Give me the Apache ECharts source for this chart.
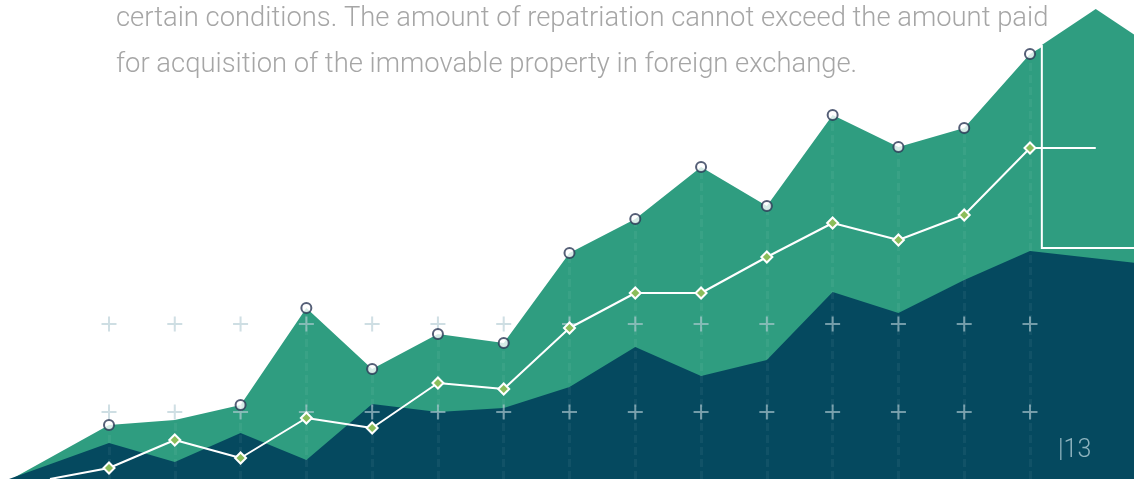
<!DOCTYPE html>
<html><head><meta charset="utf-8">
<style>html,body{margin:0;padding:0;background:#fff;overflow:hidden}#c{width:1134px;height:479px}</style>
<script src="https://cdn.jsdelivr.net/npm/echarts@6/dist/echarts.min.js"></script>
</head><body><div id="c"></div>
<script>
// ---- data ----
const periods = [0,1,2,3,4,5,6,7,8,9,10,11,12,13,14];
const upperValues = [13.5, 14.75, 18.5, 42.75, 27.5, 36.25, 34, 56.5, 65, 78, 68.25, 91, 83, 87.75, 106.25];
const midValues   = [2.75, 9.75, 5.25, 15.25, 12.75, 24, 22.5, 37.75, 46.5, 46.5, 55.5, 64, 59.75, 66, 82.75];
const lowerValues = [9, 4.25, 11.5, 4.75, 18.75, 16.75, 17.75, 23, 33, 25.75, 29.75, 46.75, 41.5, 49.75, 57];
const upperLead = [-1.48, 0];
const upperTail = [[14.18, 108], [15.6, 95]];
const midLead = [-0.897, 0];
const midTail = [15, 82.75];
const lowerLead = [-1.52, 0];
const lowerTail = [15.6, 54];
const houseShape = [[14.18, 57.75], [14.18, 108.5], [15, 117.5], [15.82, 108.5], [15.82, 57.75]];
const plusRows = [38.75, 16.75];
const bodyText = ['certain conditions. The amount of repatriation cannot exceed the amount paid',
                  'for acquisition of the immovable property in foreign exchange.'];
const pageLabel = '|13';

// ---- styles ----
const GREEN = '#2f9d80';
const NAVY = '#05495f';
const TEXT_FONT = "'Roboto', sans-serif";

const pairs = (vals) => periods.map((p, i) => [p, vals[i]]);
const upperData = [upperLead, ...pairs(upperValues), ...upperTail];
const midData = [midLead, ...pairs(midValues), midTail]
  .map((d, i, a) => (i === 0 || i === a.length - 1) ? {value: d, symbol: 'none'} : d);
const lowerData = [lowerLead, ...pairs(lowerValues), lowerTail];
const plusData = [];
plusRows.forEach(r => periods.forEach(p => plusData.push([p, r])));

const chart = echarts.init(document.getElementById('c'), null, {renderer: 'canvas'});
chart.setOption({
  animation: false,
  backgroundColor: '#ffffff',
  title: [
    {text: bodyText[0], left: 116, top: 6, padding: 0,
     textStyle: {fontFamily: TEXT_FONT, fontSize: 27.4, fontWeight: 300, color: '#a6a6a6'}},
    {text: bodyText[1], left: 116, top: 52, padding: 0,
     textStyle: {fontFamily: TEXT_FONT, fontSize: 27.4, fontWeight: 300, color: '#a6a6a6'}},
    {text: pageLabel, left: 1058, top: 438, padding: 0,
     textStyle: {fontFamily: TEXT_FONT, fontSize: 25, fontWeight: 300, color: '#8fb4bf'}}
  ],
  grid: {left: 0, right: 0, top: 0, bottom: 0, containLabel: false},
  xAxis: {type: 'value', min: -1.657, max: 15.581,
    axisLine: {show: false}, axisTick: {show: false}, axisLabel: {show: false}, splitLine: {show: false}},
  yAxis: {type: 'value', min: 0, max: 119.75,
    axisLine: {show: false}, axisTick: {show: false}, axisLabel: {show: false}, splitLine: {show: false}},
  series: [
    {type: 'line', data: upperData, z: 1, showSymbol: false, silent: true,
     lineStyle: {width: 0, color: GREEN}, areaStyle: {color: GREEN, opacity: 1}},
    {type: 'line', data: lowerData, z: 2, showSymbol: false, silent: true,
     lineStyle: {width: 0, color: NAVY}, areaStyle: {color: NAVY, opacity: 1}},
    {type: 'custom', z: 3, data: [[15, 60]], clip: false, silent: true,
     renderItem: (params, api) => {
       const pts = houseShape.map(p => api.coord(p));
       return {type: 'group', children: [
         {type: 'polygon', shape: {points: pts}, style: {fill: GREEN}},
         {type: 'polyline', shape: {points: [pts[1], pts[0], pts[4]]},
          style: {stroke: '#ffffff', lineWidth: 2, fill: null}}
       ]};
     }},
    {type: 'scatter', data: plusData, z: 4, silent: true,
     symbol: 'path://M0,6.5H15V8.5H0Z M6.5,0H8.5V15H6.5Z', symbolSize: 15,
     itemStyle: {color: 'rgba(178,203,211,0.8)'},
     markLine: {silent: true, symbol: 'none', label: {show: false},
       lineStyle: {color: 'rgba(255,255,255,0.05)', width: 3, type: [8, 4]},
       data: periods.map(p => ({xAxis: p}))}},
    {type: 'line', data: midData, z: 10, silent: true,
     symbol: 'diamond', symbolSize: 11, showAllSymbol: true,
     lineStyle: {color: '#ffffff', width: 2},
     itemStyle: {color: '#8bbd5a', borderColor: '#ffffff', borderWidth: 2}},
    {type: 'scatter', data: pairs(upperValues).filter((d, i) => i !== 1), z: 11, silent: true,
     symbol: 'circle', symbolSize: 10,
     itemStyle: {color: '#ffffff', borderColor: '#2a3755', borderWidth: 2}}
  ]
});
</script>
</body></html>
